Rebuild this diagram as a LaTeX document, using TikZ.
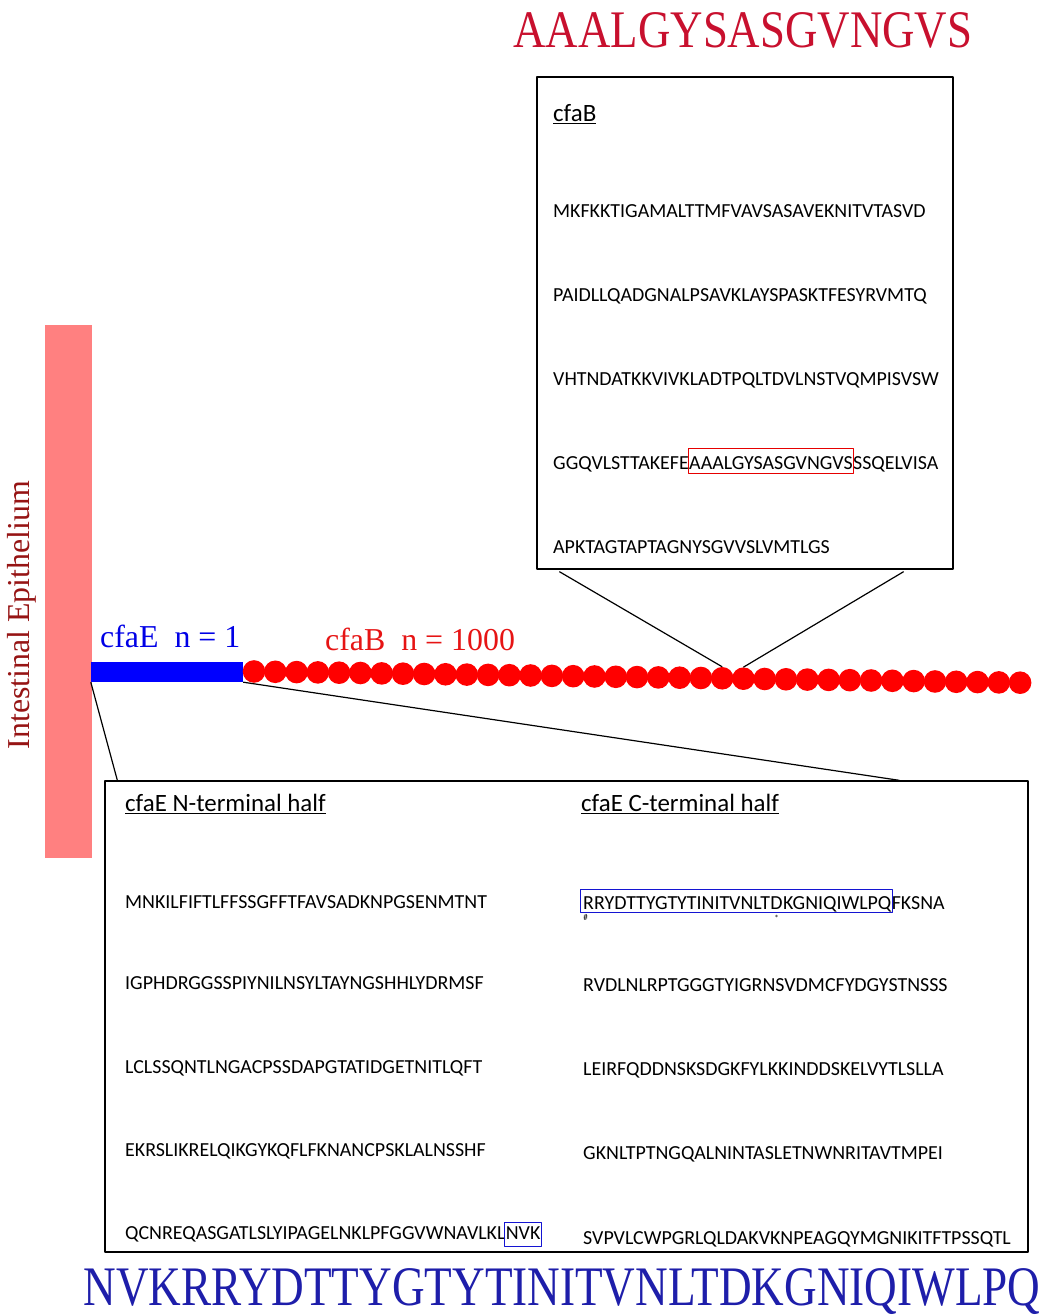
\documentclass[tikz,border=0pt]{standalone}
\usepackage{fontspec}
\setmainfont{Liberation Serif}
\newfontfamily\calib{Carlito}
\definecolor{wallpink}{RGB}{255,128,128}
\definecolor{epired}{RGB}{150,20,20}
\definecolor{titlered}{RGB}{200,16,46}
\definecolor{labelred}{RGB}{230,20,20}
\definecolor{beadred}{RGB}{255,0,0}
\definecolor{boxred}{RGB}{230,0,0}
\definecolor{barblue}{RGB}{0,0,255}
\definecolor{labelblue}{RGB}{0,0,230}
\definecolor{titleblue}{RGB}{30,30,170}
\definecolor{boxblue}{RGB}{20,20,210}
\tikzset{
  seq/.style={anchor=base west,inner sep=0pt,font=\calib\fontsize{20}{24}\selectfont},
  head/.style={anchor=base west,inner sep=0pt,font=\calib\fontsize{25}{30}\selectfont},
  bead/.style={circle,fill=beadred,inner sep=0pt,minimum size=22.6bp},
  panel/.style={draw=black,line width=1.3bp,rectangle,inner sep=0pt},
  link/.style={draw=black,line width=1.2bp},
  tiny/.style={inner sep=0pt,font=\calib\fontsize{9}{10}\selectfont},
}
\begin{document}
\begin{tikzpicture}[>=latex,line join=bevel,]
    %%
    \useasboundingbox (0bp,0bp) rectangle (1061bp,1316bp);
    \node (pepB) at (743bp,1268bp) [anchor=base,inner sep=0pt,text=titlered,font=\fontsize{53}{60}\selectfont] {\scalebox{0.85}[1]{AAALGYSASGVNGVS}};
    \node (pepE) at (562bp,11bp) [anchor=base,inner sep=0pt,text=titleblue,font=\fontsize{56}{60}\selectfont] {\scalebox{0.81}[1]{NVKRRYDTTYGTYTINITVNLTDKGNIQIWLPQ}};
    %
    \node (wall) at (68.5bp,724.5bp) [fill=wallpink,rectangle,minimum width=47bp,minimum height=533bp,inner sep=0pt] {};
    \node (epi) at (22bp,701bp) [rotate=90,text=epired,font=\fontsize{32}{36}\selectfont] {Intestinal Epithelium};
    \node (cfaE) at (167bp,644bp) [fill=barblue,rectangle,minimum width=152bp,minimum height=20bp,inner sep=0pt] {};
    \node (cfaElab) at (100bp,668bp) [anchor=base west,inner sep=0pt,text=labelblue,font=\fontsize{32}{36}\selectfont] {cfaE~~n = 1};
    \node (cfaBlab) at (325bp,665bp) [anchor=base west,inner sep=0pt,text=labelred,font=\fontsize{32}{36}\selectfont] {cfaB~~n = 1000};
    %
    \node (b0) at (254.0bp,644.5bp) [bead] {};
    \node (b1) at (275.3bp,644.2bp) [bead] {};
    \node (b2) at (296.6bp,643.9bp) [bead] {};
    \node (b3) at (317.8bp,643.6bp) [bead] {};
    \node (b4) at (339.1bp,643.3bp) [bead] {};
    \node (b5) at (360.4bp,643.0bp) [bead] {};
    \node (b6) at (381.7bp,642.6bp) [bead] {};
    \node (b7) at (403.0bp,642.3bp) [bead] {};
    \node (b8) at (424.2bp,642.0bp) [bead] {};
    \node (b9) at (445.5bp,641.7bp) [bead] {};
    \node (b10) at (466.8bp,641.4bp) [bead] {};
    \node (b11) at (488.1bp,641.1bp) [bead] {};
    \node (b12) at (509.4bp,640.8bp) [bead] {};
    \node (b13) at (530.6bp,640.5bp) [bead] {};
    \node (b14) at (551.9bp,640.1bp) [bead] {};
    \node (b15) at (573.2bp,639.8bp) [bead] {};
    \node (b16) at (594.5bp,639.5bp) [bead] {};
    \node (b17) at (615.8bp,639.2bp) [bead] {};
    \node (b18) at (637.0bp,638.9bp) [bead] {};
    \node (b19) at (658.3bp,638.6bp) [bead] {};
    \node (b20) at (679.6bp,638.3bp) [bead] {};
    \node (b21) at (700.9bp,638.0bp) [bead] {};
    \node (b22) at (722.2bp,637.7bp) [bead] {};
    \node (b23) at (743.4bp,637.3bp) [bead] {};
    \node (b24) at (764.7bp,637.0bp) [bead] {};
    \node (b25) at (786.0bp,636.7bp) [bead] {};
    \node (b26) at (807.3bp,636.4bp) [bead] {};
    \node (b27) at (828.6bp,636.1bp) [bead] {};
    \node (b28) at (849.8bp,635.8bp) [bead] {};
    \node (b29) at (871.1bp,635.5bp) [bead] {};
    \node (b30) at (892.4bp,635.2bp) [bead] {};
    \node (b31) at (913.7bp,634.9bp) [bead] {};
    \node (b32) at (935.0bp,634.5bp) [bead] {};
    \node (b33) at (956.2bp,634.2bp) [bead] {};
    \node (b34) at (977.5bp,633.9bp) [bead] {};
    \node (b35) at (998.8bp,633.6bp) [bead] {};
    \node (b36) at (1020.1bp,633.3bp) [bead] {};
    %
    \node (boxB) at (745bp,993bp) [panel,minimum width=416bp,minimum height=492bp] {};
    \node (hB) at (553bp,1194.5bp) [head] {\underline{cfaB}};
    \node (sB1) at (553bp,1098.5bp) [seq] {MKFKKTIGAMALTTMFVAVSASAVEKNITVTASVD};
    \node (sB2) at (553bp,1014.5bp) [seq] {PAIDLLQADGNALPSAVKLAYSPASKTFESYRVMTQ};
    \node (sB3) at (553bp,930.5bp) [seq] {VHTNDATKKVIVKLADTPQLTDVLNSTVQMPISVSW};
    \node (sB4a) at (553bp,846.5bp) [seq] {GGQVLSTTAKEFE};
    \node (sB4b) at (sB4a.base east) [seq] {AAALGYSASGVNGVS};
    \node (sB4c) at (sB4b.base east) [seq] {SSQELVISA};
    \node (sB5) at (553bp,762.5bp) [seq] {APKTAGTAPTAGNYSGVVSLVMTLGS};
    \draw [draw=boxred,line width=1bp] ([shift={(-1bp,-4.5bp)}]sB4b.base west) rectangle ([shift={(1bp,20.5bp)}]sB4b.base east);
    \draw [link] ([shift={(23bp,-2bp)}]boxB.south west) -- (b22.north);
    \draw [link] ([shift={(-50bp,-2bp)}]boxB.south east) -- (b23.north);
    %
    \node (boxE) at (566.5bp,299.5bp) [panel,minimum width=923bp,minimum height=471bp] {};
    \draw [link] (cfaE.south west) -- ([xshift=13bp]boxE.north west);
    \draw [link] (cfaE.south east) -- ([xshift=795bp]boxE.north west);
    \node (hN) at (125bp,504.5bp) [head] {\underline{cfaE N-terminal half}};
    \node (hC) at (581bp,504.5bp) [head] {\underline{cfaE C-terminal half}};
    \node (sN1) at (125bp,407.5bp) [seq] {MNKILFIFTLFFSSGFFTFAVSADKNPGSENMTNT};
    \node (sN2) at (125bp,326.5bp) [seq] {IGPHDRGGSSPIYNILNSYLTAYNGSHHLYDRMSF};
    \node (sN3) at (125bp,242.5bp) [seq] {LCLSSQNTLNGACPSSDAPGTATIDGETNITLQFT};
    \node (sN4) at (125bp,159.5bp) [seq] {EKRSLIKRELQIKGYKQFLFKNANCPSKLALNSSHF};
    \node (sN5a) at (125bp,76bp) [seq] {QCNREQASGATLSLYIPAGELNKLPFGGVWNAVLKL};
    \node (sN5b) at (sN5a.base east) [seq] {NVK};
    \draw [draw=boxblue,line width=1bp] ([shift={(-1bp,-7bp)}]sN5b.base west) rectangle ([shift={(1bp,17.5bp)}]sN5b.base east);
    \node (sC1a) at (583bp,406.5bp) [seq] {RRYDTTYGTYTINITVNLT};
    \node (sC1b) at (sC1a.base east) [seq] {D};
    \node (sC1c) at (sC1b.base east) [seq] {KGNIQIWLPQ};
    \node (sC1d) at (sC1c.base east) [seq] {FKSNA};
    \draw [draw=boxblue,line width=1bp] ([shift={(-3bp,-3.5bp)}]sC1a.base west) rectangle ([shift={(1bp,19.5bp)}]sC1c.base east);
    \node (hash) at ([shift={(2.5bp,-8bp)}]sC1a.base west) [tiny] {\#};
    \node (star) at ([yshift=-9bp]sC1b.base) [tiny] {*};
    \node (sC2) at (583bp,324.5bp) [seq] {RVDLNLRPTGGGTYIGRNSVDMCFYDGYSTNSSS};
    \node (sC3) at (583bp,240.5bp) [seq] {LEIRFQDDNSKSDGKFYLKKINDDSKELVYTLSLLA};
    \node (sC4) at (583bp,156.5bp) [seq] {GKNLTPTNGQALNINTASLETNWNRITAVTMPEI};
    \node (sC5) at (583bp,71.5bp) [seq] {SVPVLCWPGRLQLDAKVKNPEAGQYMGNIKITFTPSSQTL};
    %
\end{tikzpicture}
\end{document}
